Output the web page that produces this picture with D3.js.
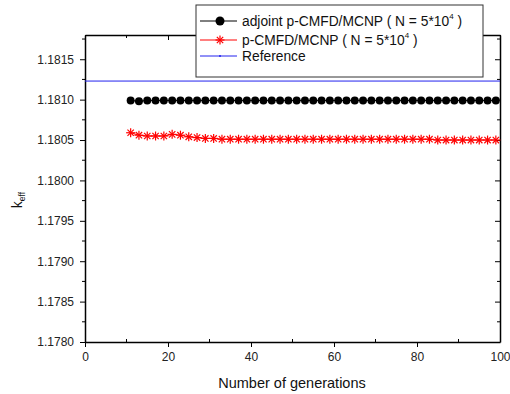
<!DOCTYPE html>
<html>
<head>
<meta charset="utf-8">
<script src="https://cdn.jsdelivr.net/npm/d3@7"></script>
<style>
  body { margin: 0; background: #fff; }
  svg { font-family: Arial, "Liberation Sans", sans-serif; }
</style>
</head>
<body>
<div id="chart"></div>
<script>
// generations where each series was plotted
const generations = [11, 13, 15, 17, 19, 21, 23, 25, 27, 29, 31, 33, 35, 37, 39,
  41, 43, 45, 47, 49, 51, 53, 55, 57, 59, 61, 63, 65, 67, 69,
  71, 73, 75, 77, 79, 81, 83, 85, 87, 89, 91, 93, 95, 97, 99];

const adjointValues = [1.18099, 1.18098, 1.18099, 1.18099, 1.18099, 1.18099, 1.18099, 1.18099, 1.18099, 1.18099,
  1.18099, 1.18099, 1.18099, 1.18099, 1.18099, 1.18099, 1.18099, 1.18099, 1.18099, 1.18099,
  1.18099, 1.18099, 1.18099, 1.18099, 1.18099, 1.18099, 1.18099, 1.18099, 1.18099, 1.18099,
  1.18099, 1.18099, 1.18099, 1.18099, 1.18099, 1.18099, 1.18099, 1.18099, 1.18099, 1.18099,
  1.18099, 1.18099, 1.18099, 1.18099, 1.18099];

const pcmfdValues = [1.18059, 1.18056, 1.18055, 1.18055, 1.18055, 1.18057, 1.18056, 1.18054, 1.18053, 1.18052,
  1.18052, 1.18051, 1.18051, 1.18051, 1.18051, 1.18051, 1.18051, 1.18051, 1.18051, 1.18051,
  1.18051, 1.18051, 1.18051, 1.18051, 1.18051, 1.18051, 1.18051, 1.18051, 1.18051, 1.18051,
  1.18051, 1.18051, 1.18051, 1.18051, 1.18051, 1.18051, 1.18051, 1.18050, 1.18050, 1.18050,
  1.18050, 1.18050, 1.18050, 1.18050, 1.18050];

const referenceValue = 1.18123;

const xTicks = [0, 20, 40, 60, 80, 100];
const yTicks = [1.1780, 1.1785, 1.1790, 1.1795, 1.1800, 1.1805, 1.1810, 1.1815];

const width = 510, height = 394;
const margin = { top: 35, right: 10, bottom: 52, left: 85 };
const plotW = width - margin.left - margin.right;
const plotH = height - margin.top - margin.bottom;

const svg = d3.select('#chart').append('svg')
  .attr('width', width)
  .attr('height', height);

const x = d3.scaleLinear().domain([0, 100]).range([margin.left, margin.left + plotW]);
const y = d3.scaleLinear().domain([1.1780, 1.18180]).range([margin.top + plotH, margin.top]);

const xMinor = d3.range(0, 101, 10).filter(d => !xTicks.includes(d));
const yMinor = d3.range(1.17775, 1.1818, 0.0005).filter(d => d > 1.1780 && d < 1.1818);

// axes
const bottomAxis = svg.append('g').attr('transform', `translate(0, ${margin.top + plotH})`);
bottomAxis.call(d3.axisBottom(x).tickValues(xTicks).tickFormat(d3.format('d')).tickSize(5).tickSizeOuter(0));
bottomAxis.selectAll('.tick').filter(d => d === 100).select('line').remove();
bottomAxis.call(g => g.selectAll('.tick text').attr('font-size', 12).attr('fill', '#222').attr('dy', '0.95em'));
xMinor.forEach(d => bottomAxis.append('line').attr('x1', x(d)).attr('x2', x(d)).attr('y1', 0).attr('y2', -3).attr('stroke', '#000'));

const leftAxis = svg.append('g').attr('transform', `translate(${margin.left}, 0)`);
leftAxis.call(d3.axisLeft(y).tickValues(yTicks).tickFormat(d3.format('.4f')).tickSize(5).tickSizeOuter(0));
leftAxis.call(g => g.selectAll('.tick text').attr('font-size', 12).attr('fill', '#222').attr('dx', '-0.25em'));
yMinor.forEach(d => leftAxis.append('line').attr('x1', 0).attr('x2', -3).attr('y1', y(d)).attr('y2', y(d)).attr('stroke', '#000'));

const topAxis = svg.append('g').attr('transform', `translate(0, ${margin.top})`);
topAxis.call(d3.axisTop(x).tickValues(xTicks).tickFormat('').tickSize(-5).tickSizeOuter(0));
xMinor.forEach(d => topAxis.append('line').attr('x1', x(d)).attr('x2', x(d)).attr('y1', 0).attr('y2', 3).attr('stroke', '#000'));

const rightAxis = svg.append('g').attr('transform', `translate(${margin.left + plotW}, 0)`);
rightAxis.call(d3.axisRight(y).tickValues(yTicks).tickFormat('').tickSize(-5).tickSizeOuter(0));
yMinor.forEach(d => rightAxis.append('line').attr('x1', 0).attr('x2', -3).attr('y1', y(d)).attr('y2', y(d)).attr('stroke', '#000'));

svg.selectAll('.domain').attr('stroke', '#000').attr('stroke-width', 1.5);
svg.selectAll('.tick line').attr('stroke', '#000');

// reference line
svg.append('line')
  .attr('x1', x(0)).attr('x2', x(100))
  .attr('y1', y(referenceValue)).attr('y2', y(referenceValue))
  .attr('stroke', '#2222ee').attr('stroke-width', 1);

const line = d3.line().x(d => x(d[0])).y(d => y(d[1]));
const adjointData = generations.map((g, i) => [g, adjointValues[i]]);
const pcmfdData = generations.map((g, i) => [g, pcmfdValues[i]]);

svg.append('path').datum(adjointData).attr('d', line)
  .attr('fill', 'none').attr('stroke', '#000').attr('stroke-width', 1);
svg.selectAll('.dot').data(adjointData).enter().append('circle')
  .attr('cx', d => x(d[0])).attr('cy', d => y(d[1])).attr('r', 4).attr('fill', '#000');

svg.append('path').datum(pcmfdData).attr('d', line)
  .attr('fill', 'none').attr('stroke', '#ff0000').attr('stroke-width', 1);

function star(g, cx, cy, r) {
  [0, 45, 90, 135].forEach(a => {
    const rad = a * Math.PI / 180;
    g.append('line')
      .attr('x1', cx - r * Math.cos(rad)).attr('y1', cy - r * Math.sin(rad))
      .attr('x2', cx + r * Math.cos(rad)).attr('y2', cy + r * Math.sin(rad))
      .attr('stroke', '#ff0000').attr('stroke-width', 1.2);
  });
}
const stars = svg.append('g');
pcmfdData.forEach(d => star(stars, x(d[0]), y(d[1]), 4.5));

// axis titles
svg.append('text')
  .attr('x', 292).attr('y', 388)
  .attr('text-anchor', 'middle').attr('font-size', 14.5).attr('fill', '#111')
  .text('Number of generations');

const yl = svg.append('text')
  .attr('transform', 'translate(22, 200) rotate(-90)')
  .attr('text-anchor', 'middle').attr('font-size', 14).attr('fill', '#111');
yl.append('tspan').text('k');
yl.append('tspan').attr('font-size', 8.5).attr('dy', 3).text('eff');

// legend
const legend = svg.append('g');
legend.append('rect')
  .attr('x', 196).attr('y', 5).attr('width', 287).attr('height', 72)
  .attr('fill', '#fff').attr('stroke', '#333').attr('stroke-width', 1);

const rows = [
  { y: 21, color: '#000', kind: 'circle', label: 'adjoint p-CMFD/MCNP ( N = 5*10', sup: '4', tail: ' )' },
  { y: 40, color: '#ff0000', kind: 'star', label: 'p-CMFD/MCNP ( N = 5*10', sup: '4', tail: ' )' },
  { y: 56, color: '#2222ee', kind: 'dot', label: 'Reference' }
];
rows.forEach(r => {
  legend.append('line').attr('x1', 200).attr('x2', 237).attr('y1', r.y).attr('y2', r.y)
    .attr('stroke', r.color).attr('stroke-width', 1);
  if (r.kind === 'circle') legend.append('circle').attr('cx', 220).attr('cy', r.y).attr('r', 4.5).attr('fill', '#000');
  if (r.kind === 'star') star(legend, 220, r.y, 4.5);
  if (r.kind === 'dot') legend.append('circle').attr('cx', 220).attr('cy', r.y).attr('r', 1).attr('fill', r.color);
  const t = legend.append('text').attr('x', 242).attr('y', r.y + 5)
    .attr('font-size', 13.8).attr('fill', '#111');
  t.append('tspan').text(r.label);
  if (r.sup) {
    t.append('tspan').attr('font-size', 8).attr('dy', -7).text(r.sup);
    t.append('tspan').attr('dy', 7).text(r.tail);
  }
});
</script>
</body>
</html>
